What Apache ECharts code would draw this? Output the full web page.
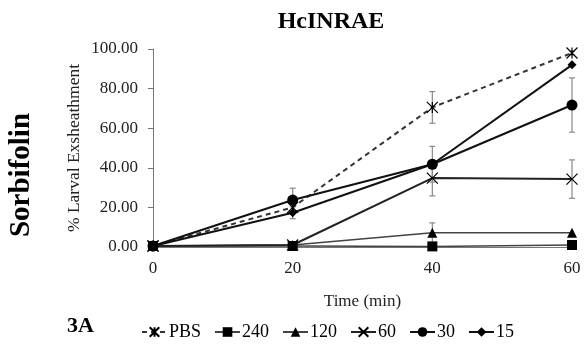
<!DOCTYPE html>
<html><head><meta charset="utf-8">
<script src="https://cdn.jsdelivr.net/npm/echarts@6/dist/echarts.min.js"></script>
<style>html,body{margin:0;padding:0;background:#fff}#c{width:586px;height:345px}</style>
</head><body><div id="c"></div>
<script>
const times = [0, 20, 40, 60];
const yTicks = [0, 20, 40, 60, 80, 100];
const seriesNames = ['PBS', '240', '120', '60', '30', '15'];
const pbs = [0.5, 20, 70.5, 98];
const d240 = [0.5, 0.5, 0.3, 1];
const d120 = [0.5, 1, 7.2, 7.2];
const d60 = [0.5, 1, 34.8, 34.3];
const d30 = [0.5, 23.7, 41.8, 71.7];
const d15 = [0.5, 17.3, 41.8, 92];
const errPBS = [0, 2, 8, 1];
const err240 = [0, 0, 0, 0];
const err120 = [0, 0, 5, 0];
const err60 = [0, 0, 9, 9.7];
const err30 = [0, 6, 9, 13.7];
const err15 = [0, 3, 0, 0];

const SERIF = '"Liberation Serif","DejaVu Serif",serif';
const crossStar = 'path://M0,0L10,10M10,0L0,10M5,0L5,10';
const cross = 'path://M0,0L10,10M10,0L0,10';

function lineSeries(name, vals, symbol, size, opts) {
  opts = opts || {};
  return {
    name: name, type: 'line', data: times.map((t, i) => [t, vals[i]]),
    symbol: symbol, symbolSize: size,
    lineStyle: { color: opts.lc || '#111', width: opts.w || 2, type: opts.type || 'solid' },
    itemStyle: { color: opts.fill || '#000', borderColor: '#000', borderWidth: opts.bw || 0 },
    z: 3, animation: false
  };
}
function errSeries(vals, errs) {
  const data = [];
  times.forEach((t, i) => { if (errs[i] > 0) data.push([t, vals[i] - errs[i], vals[i] + errs[i]]); });
  return {
    type: 'custom', data: data, z: 2, silent: true, animation: false,
    renderItem: function (params, api) {
      const lo = api.coord([api.value(0), api.value(1)]);
      const hi = api.coord([api.value(0), api.value(2)]);
      const cw = 3;
      const st = { stroke: '#888', lineWidth: 1.2 };
      return { type: 'group', children: [
        { type: 'line', shape: { x1: lo[0], y1: lo[1], x2: hi[0], y2: hi[1] }, style: st },
        { type: 'line', shape: { x1: lo[0] - cw, y1: lo[1], x2: lo[0] + cw, y2: lo[1] }, style: st },
        { type: 'line', shape: { x1: hi[0] - cw, y1: hi[1], x2: hi[0] + cw, y2: hi[1] }, style: st }
      ]};
    }
  };
}

const chart = echarts.init(document.getElementById('c'), null, { renderer: 'canvas' });
chart.setOption({
  backgroundColor: '#fff',
  animation: false,
  title: [
    { text: 'HcINRAE', left: 326, top: 5, textAlign: 'center',
      textStyle: { fontFamily: SERIF, fontSize: 24, fontWeight: 'bold', color: '#000' } },
    { text: '3A', left: 62, top: 310,
      textStyle: { fontFamily: SERIF, fontSize: 22, fontWeight: 'bold', color: '#000' } }
  ],
  graphic: [
    { type: 'text', x: 22, y: 175, rotation: Math.PI / 2,
      style: { text: 'Sorbifolin', font: 'bold 29px ' + SERIF, fill: '#000', align: 'center', verticalAlign: 'middle' } }
  ],
  grid: { left: 153, right: 14, top: 49, bottom: 98, containLabel: false },
  legend: {
    left: 136, top: 318, itemWidth: 25, itemHeight: 12, itemGap: 13,
    data: seriesNames,
    textStyle: { fontFamily: SERIF, fontSize: 18, color: '#000', padding: [0, 0, 0, -3] }
  },
  xAxis: {
    type: 'value', min: 0, max: 60, interval: 20,
    name: 'Time (min)', nameLocation: 'middle', nameGap: 46,
    nameTextStyle: { fontFamily: SERIF, fontSize: 17, color: '#222' },
    axisLine: { show: true, lineStyle: { color: '#777', width: 1 } },
    axisTick: { show: false },
    splitLine: { show: false },
    axisLabel: { fontFamily: SERIF, fontSize: 17, color: '#222', margin: 13 }
  },
  yAxis: {
    type: 'value', min: yTicks[0], max: yTicks[yTicks.length - 1], interval: 20,
    name: '% Larval Exsheathment', nameLocation: 'middle', nameGap: 70, nameMoveOverlap: false,
    nameTextStyle: { fontFamily: SERIF, fontSize: 17.5, color: '#222' },
    axisLine: { show: true, lineStyle: { color: '#777', width: 1 } },
    axisTick: { show: true, inside: false, length: 5, lineStyle: { color: '#777' } },
    splitLine: { show: false },
    axisLabel: { fontFamily: SERIF, fontSize: 17, color: '#222', margin: 15,
      formatter: v => v.toFixed(2) }
  },
  series: [
    errSeries(pbs, errPBS), errSeries(d240, err240), errSeries(d120, err120),
    errSeries(d60, err60), errSeries(d30, err30), errSeries(d15, err15),
    lineSeries('PBS', pbs, crossStar, 11, { type: [5, 4], w: 2, lc: '#333', fill: 'none', bw: 1.2 }),
    lineSeries('240', d240, 'rect', 10, { w: 1.5, lc: '#444' }),
    lineSeries('120', d120, 'triangle', 10, { w: 1.5, lc: '#444' }),
    lineSeries('60', d60, cross, 11, { w: 2, lc: '#222', fill: 'none', bw: 1.2 }),
    lineSeries('30', d30, 'circle', 11, { w: 2 }),
    lineSeries('15', d15, 'diamond', 9, { w: 2 })
  ]
});
</script>
</body></html>
